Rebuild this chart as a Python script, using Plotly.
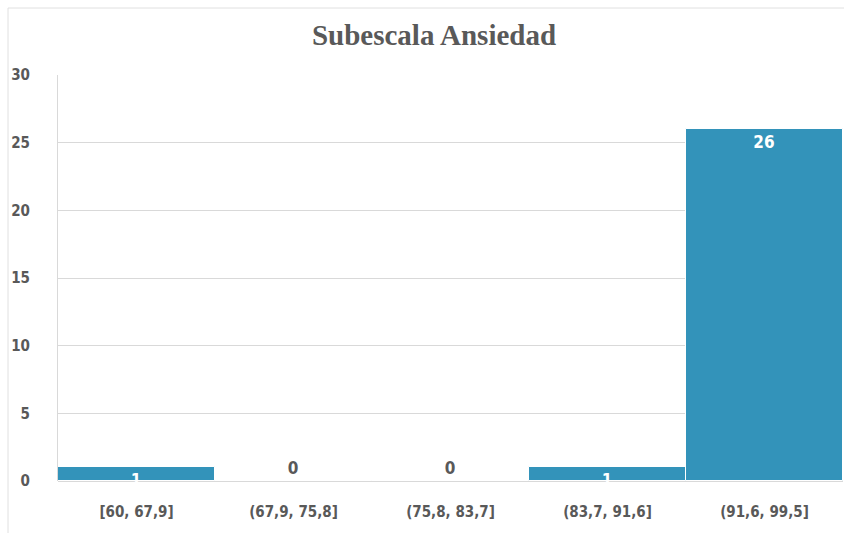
import plotly.graph_objects as go

categories = ["[60, 67,9]", "(67,9, 75,8]", "(75,8, 83,7]", "(83,7, 91,6]", "(91,6, 99,5]"]
values = [1, 0, 0, 1, 26]
title_text = "Subescala Ansiedad"
y_ticks = [0, 5, 10, 15, 20, 25, 30]

W, H = 844, 533
ml, mr, mt, mb = 58, 1, 75, 52

gray = "#595959"
fam = "Liberation Sans Narrow, DejaVu Sans Condensed, Arial Narrow, sans-serif"
tickfont = dict(family=fam, size=15, color=gray, weight="bold")

fig = go.Figure(go.Bar(
    x=categories,
    y=values,
    marker=dict(color="#3393BA", line=dict(color="white", width=1)),
    text=[str(v) for v in values],
    textposition=["inside" if v > 0 else "outside" for v in values],
    textangle=0,
    insidetextanchor="end",
    constraintext="none",
    cliponaxis=False,
    textfont=dict(family=fam, size=17, weight="bold"),
    insidetextfont=dict(color="white", size=17, family=fam, weight="bold"),
    outsidetextfont=dict(color=gray, size=17, family=fam, weight="bold"),
    width=1.0,
    hoverinfo="skip",
))

pw = W - ml - mr
ph = H - mt - mb
fig.add_shape(type="rect", xref="paper", yref="paper",
              x0=(8 - ml) / pw, x1=(W + 20 - ml) / pw,
              y0=-(mb + 20) / ph, y1=1 + (mt - 8) / ph,
              line=dict(color="#E0E0E0", width=1), layer="below")

fig.update_layout(
    width=W, height=H,
    margin=dict(l=ml, r=mr, t=mt, b=mb),
    paper_bgcolor="white", plot_bgcolor="white",
    title=dict(text="<b>" + title_text + "</b>", x=434 / W, xref="container", xanchor="center",
               y=1 - 35 / H, yanchor="middle",
               font=dict(family="Liberation Serif, Times New Roman, serif", size=29, color=gray)),
    bargap=0,
    showlegend=False,
    xaxis=dict(tickfont=tickfont, showline=False, ticks="", showgrid=False, ticklabelstandoff=20),
    yaxis=dict(range=[0, 30], tickvals=y_ticks, tickfont=tickfont, showgrid=True,
               gridcolor="#D9D9D9", gridwidth=1, zeroline=True, zerolinecolor="#D9D9D9",
               showline=True, linecolor="#D9D9D9", ticks="", ticklabelstandoff=24),
)

fig.write_html("out.html",
               config={"displayModeBar": False},
               post_script="document.body.style.margin='0';document.body.style.overflow='hidden';")
